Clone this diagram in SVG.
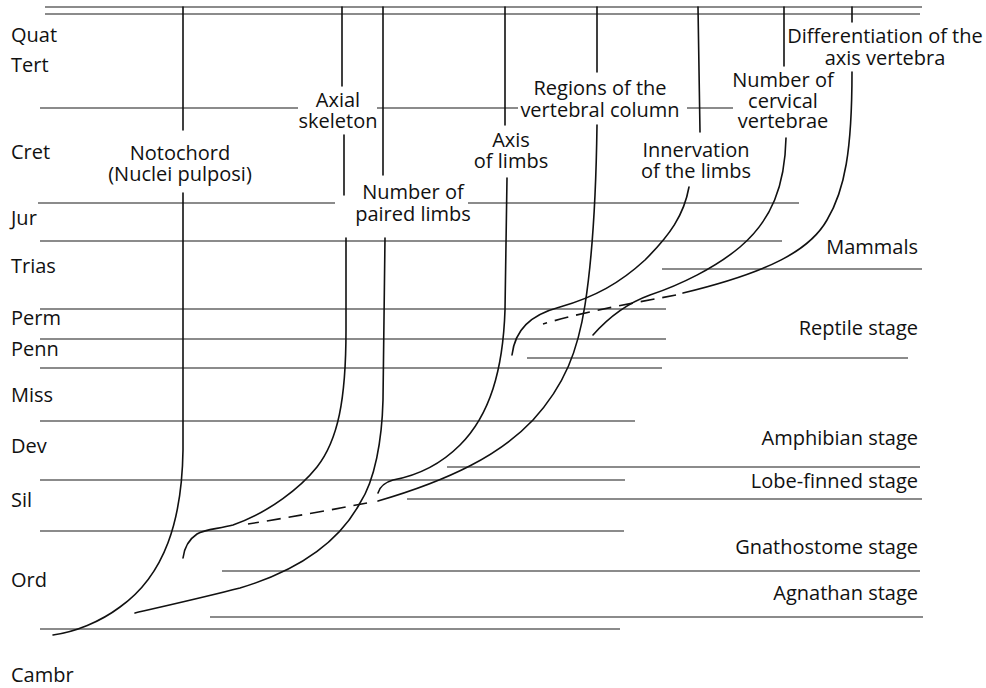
<svg xmlns="http://www.w3.org/2000/svg" width="986" height="688" viewBox="0 0 986 688">
<style>
text{font-family:"Open Sans","Liberation Sans",sans-serif;font-size:20px;fill:#111}
.c{text-anchor:middle}
.r{text-anchor:end}
.g{stroke:#666;stroke-width:1.6;fill:none}
.k{stroke:#111;stroke-width:1.6;fill:none;stroke-linecap:round}
.d{stroke:#111;stroke-width:1.6;fill:none;stroke-dasharray:14 8}
</style>
<rect width="986" height="688" fill="#fff"/>
<g id="grid">
<path class="g" d="M45,7H922M45,14H920M40,108H298M377,108H518M687,108H733M38,203H335M468,203H799M40,241H782M662,269H922M40,309H666M40,339H666M527,358H908M40,368H662M40,421H635M447,467H920M40,480H625M407,499H922M40,531H624M222,571H920M210,617H923M40,629H620"/>
</g>
<g id="periods">
<text x="11" y="42">Quat</text>
<text x="11" y="72">Tert</text>
<text x="11" y="159">Cret</text>
<text x="11" y="225">Jur</text>
<text x="11" y="273">Trias</text>
<text x="11" y="325">Perm</text>
<text x="11" y="356">Penn</text>
<text x="11" y="402">Miss</text>
<text x="11" y="453">Dev</text>
<text x="11" y="507">Sil</text>
<text x="11" y="587">Ord</text>
<text x="11" y="682">Cambr</text>
</g>
<g id="stages">
<text class="r" x="918" y="254">Mammals</text>
<text class="r" x="918" y="335">Reptile stage</text>
<text class="r" x="918" y="445">Amphibian stage</text>
<text class="r" x="918" y="488">Lobe-finned stage</text>
<text class="r" x="918" y="554">Gnathostome stage</text>
<text class="r" x="918" y="600">Agnathan stage</text>
</g>
<g id="notochord">
<text class="c" x="180" y="160">Notochord</text>
<text class="c" x="180" y="181">(Nuclei pulposi)</text>
</g>
<g id="axial-skeleton">
<text class="c" x="338" y="107">Axial</text>
<text class="c" x="338" y="128">skeleton</text>
</g>
<g id="paired-limbs">
<text class="c" x="413" y="199">Number of</text>
<text class="c" x="413" y="221">paired limbs</text>
</g>
<g id="axis-limbs">
<text class="c" x="511" y="147">Axis</text>
<text class="c" x="511" y="168">of limbs</text>
</g>
<g id="regions">
<text class="c" x="600" y="95">Regions of the</text>
<text class="c" x="600" y="117">vertebral column</text>
</g>
<g id="innervation">
<text class="c" x="696" y="157">Innervation</text>
<text class="c" x="696" y="178">of the limbs</text>
</g>
<g id="cervical">
<text class="c" x="783" y="87">Number of</text>
<text class="c" x="783" y="108">cervical</text>
<text class="c" x="783" y="128">vertebrae</text>
</g>
<g id="axis-vertebra">
<text class="c" x="885" y="43">Differentiation of the</text>
<text class="c" x="885" y="65">axis vertebra</text>
</g>
<g id="connectors">
<path class="k" d="M183,7V130M183,193L183,450C182,520 165,575 120,607C100,622 75,632 53,635"/>
<path class="k" d="M342,7V86M344,135V195M346,238L346,330C346,400 338,440 317,467C301,487 270,512 233,525C218,529 205,529 197,534C188,540 184,550 183,558"/>
<path class="k" d="M383,7V175M385,238L383,400C382,440 375,480 360,503C340,540 300,570 240,588C205,597 165,606 135,613"/>
<path class="k" d="M505,7V125M507,178L505,310C503,370 490,415 460,445C440,465 415,476 393,480C386,482 380,486 378,493"/>
<path class="k" d="M597,7V72M597,125C596,200 592,260 585,305C578,350 565,385 533,420C500,455 450,480 378,501"/>
<path class="d" d="M367,503Q310,514 248,524"/>
<path class="k" d="M698,7L700,132M689,187C684,215 670,235 645,260C620,283 595,297 560,307C530,315 515,330 512,355"/>
<path class="k" d="M784,7V66M786,138C785,185 772,220 740,247C715,268 680,285 650,295C625,304 608,318 593,335"/>
<path class="k" d="M852,7V22M852,72C852,150 845,190 827,220C810,250 770,272 683,293"/>
<path class="d" d="M676,295C640,302 590,310 543,324"/>
</g>
</svg>
